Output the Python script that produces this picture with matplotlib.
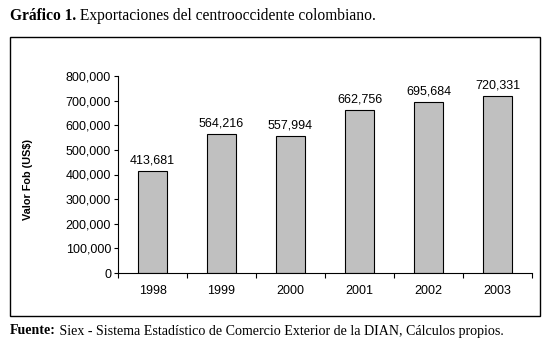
import matplotlib
matplotlib.use("Agg")
import matplotlib.pyplot as plt
from matplotlib.patches import Rectangle
from matplotlib.ticker import FuncFormatter, FixedLocator

years = ["1998", "1999", "2000", "2001", "2002", "2003"]
values = [413681, 564216, 557994, 662756, 695684, 720331]
y_ticks = [0, 100000, 200000, 300000, 400000, 500000, 600000, 700000, 800000]

W, H = 548, 342
fig = plt.figure(figsize=(W / 100, H / 100), dpi=100)

sans = ["Liberation Sans", "DejaVu Sans"]
serif = ["Liberation Serif", "DejaVu Serif"]

# outer frame
fig.patches.append(Rectangle((10 / W, 1 - 315.5 / H), 530 / W, 279 / H,
                             transform=fig.transFigure, fill=False,
                             edgecolor="black", linewidth=1.0))

ax = fig.add_axes([118 / W, 1 - 273 / H, 414 / W, 197 / H])
x = list(range(len(years)))
bars = ax.bar(x, values, width=0.41, color="#C0C0C0", edgecolor="black", linewidth=0.8)
ax.bar_label(bars, labels=[f"{v:,}" for v in values], padding=3,
             fontsize=9, family=sans)

ax.set_xlim(-0.5, len(years) - 0.5)
ax.set_ylim(0, 800000)
ax.set_yticks(y_ticks)
ax.yaxis.set_major_formatter(FuncFormatter(lambda v, p: f"{int(v):,}"))
ax.set_xticks(x)
ax.set_xticklabels(years)
ax.xaxis.set_minor_locator(FixedLocator([i - 0.5 for i in range(len(years) + 1)]))
ax.tick_params(axis="x", which="major", length=0, pad=9, labelsize=9)
ax.tick_params(axis="x", which="minor", length=3.5, width=0.8, direction="out")
ax.tick_params(axis="y", which="major", length=3, width=0.8, pad=2, labelsize=9)
for lab in ax.get_xticklabels() + ax.get_yticklabels():
    lab.set_family(sans)

for s in ["top", "right"]:
    ax.spines[s].set_visible(False)
for s in ["left", "bottom"]:
    ax.spines[s].set_linewidth(0.8)

fig.text(28 / W, 1 - 179 / H, "Valor Fob (US$)", rotation=90, ha="center",
         va="center", fontsize=7.8, fontweight="bold", family=sans)

# title
t1 = fig.text(10 / W, 1 - 16 / H, "Gráfico 1.", ha="left", va="center",
              fontsize=11.2, fontweight="bold", family=serif)
ax.annotate(" Exportaciones del centrooccidente colombiano.", xy=(1, 0.5),
            xycoords=t1, ha="left", va="center", fontsize=11.2, family=serif,
            annotation_clip=False)

# footer
f1 = fig.text(10 / W, 1 - 331 / H, "Fuente:", ha="left", va="center",
              fontsize=10.1, fontweight="bold", family=serif)
ax.annotate(" Siex - Sistema Estadístico de Comercio Exterior de la DIAN, Cálculos propios.",
            xy=(1, 0.5), xycoords=f1, ha="left", va="center", fontsize=10.1,
            family=serif, annotation_clip=False)

fig.savefig("out.png", dpi=100)
